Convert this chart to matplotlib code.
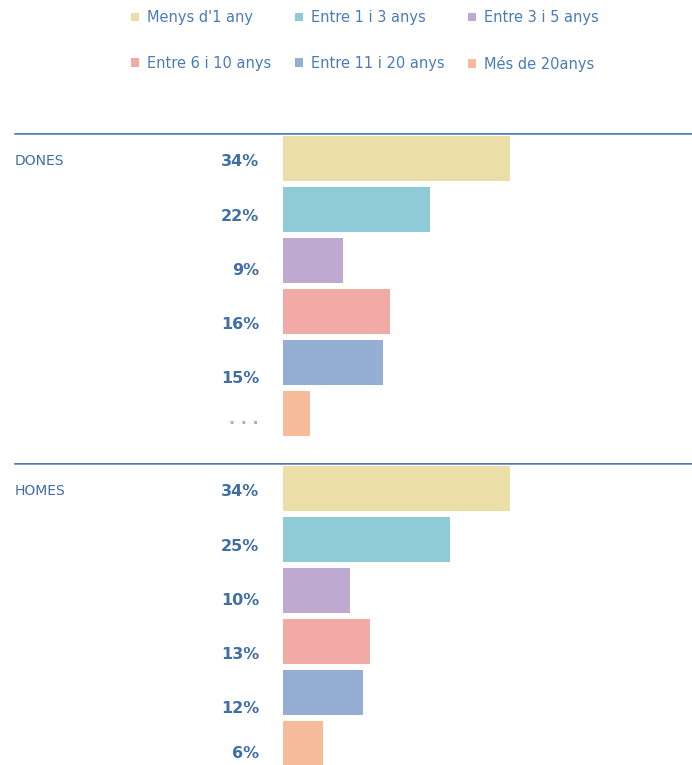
import matplotlib.pyplot as plt
from matplotlib.patches import Patch

#==============================
# Dades
#==============================
categories = ["Menys d'1 any", "Entre 1 i 3 anys", "Entre 3 i 5 anys",
              "Entre 6 i 10 anys", "Entre 11 i 20 anys", "Més de 20anys"]
colors = ["#ecdea9", "#8fcad7", "#bea9d1", "#f1aaa6", "#94aed4", "#f5bb9b"]
dones = [34, 22, 9, 16, 15, 4]
homes = [34, 25, 10, 13, 12, 6]
dones_labels = ["34%", "22%", "9%", "16%", "15%", "· · ·"]
homes_labels = ["34%", "25%", "10%", "13%", "12%", "6%"]

W, H = 692, 765
PX_PER_PCT = 6.68
ZERO_PX = 283
blue = "#3f6fa6"

# desplaçament vertical (px) de cada etiqueta respecte a la barra
label_drop = [3, 7, 10, 13, 16, 10]

fig = plt.figure(figsize=(W / 100, H / 100), dpi=100)


def panel(top_px, values, labels, title):
    # eix que ocupa tota l'amplada, amb el 0% a la posició de les barres
    h = 306
    ax = fig.add_axes([0, 1 - (top_px + h) / H, 1, h / H])
    ax.set_xlim(-ZERO_PX / PX_PER_PCT, (W - ZERO_PX) / PX_PER_PCT)
    ax.set_ylim(5.5, -0.5)
    ax.axis('off')
    ax.axhline(-0.5, xmin=15 / W, xmax=1, color="#4d7db4", lw=1.8, zorder=1)
    ax.barh(range(len(values)), values, height=0.88, color=colors, zorder=2)
    for i, lab in enumerate(labels):
        ax.annotate(lab, (0, i), xytext=(-24, -label_drop[i]),
                    textcoords='offset pixels', ha='right', va='center',
                    fontsize=11.5, fontweight='bold',
                    color=blue if '%' in lab else "#9fb3c8")
    ax.text(15 / W, 1 - 28 / h, title, transform=ax.transAxes,
            ha='left', va='center', fontsize=10, color=blue)
    return ax


panel(133, dones, dones_labels, "DONES")
panel(463, homes, homes_labels, "HOMES")

#==============================
# Llegenda
#==============================
handles = [Patch(facecolor=c, edgecolor='none') for c in colors]
order = [0, 3, 1, 4, 2, 5]
fig.legend([handles[i] for i in order], [categories[i] for i in order],
           ncol=3, loc='upper left', bbox_to_anchor=(118 / W, 1 + 3 / H),
           frameon=False, fontsize=10.5, labelcolor="#4a7db8",
           handlelength=0.55, handleheight=0.55, handletextpad=0.55,
           columnspacing=1.6, labelspacing=2.1)

fig.savefig('out.png', dpi=100)
